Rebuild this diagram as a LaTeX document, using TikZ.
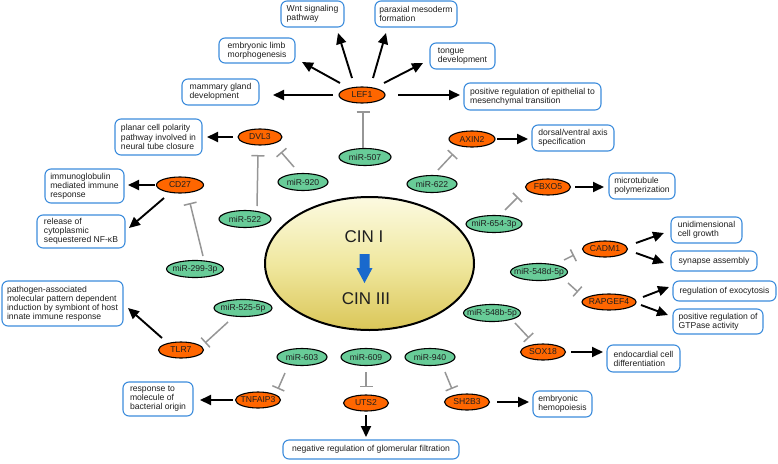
\documentclass[tikz,border=0pt]{standalone}
\usepackage{fontspec}
\setmainfont{Liberation Sans}
\usetikzlibrary{arrows.meta,calc,shapes.geometric}
\definecolor{mgreen}{RGB}{104,204,152}
\definecolor{gorange}{RGB}{255,102,0}
\definecolor{bblue}{RGB}{60,140,220}
\definecolor{igray}{RGB}{150,150,150}
\definecolor{cinblue}{RGB}{25,105,205}
\definecolor{cintop}{RGB}{252,250,225}
\definecolor{cinmid}{RGB}{240,232,160}
\definecolor{cinbot}{RGB}{218,198,88}
\begin{document}
\begin{tikzpicture}[x=1pt,y=-1pt,
  every node/.style={font=\fontsize{8.6}{9.1}\selectfont, text=black!88},
  mir/.style={ellipse, draw, line width=1.1pt, fill=mgreen, inner xsep=-14pt, inner ysep=-5pt, minimum height=17pt, minimum width=#1},
  mir/.default=52pt,
  gene/.style={ellipse, draw, line width=1.1pt, fill=gorange, inner xsep=-14pt, inner ysep=-5pt, minimum height=16pt, minimum width=#1},
  gene/.default=45pt,
  gobox/.style={draw=bblue, line width=1.1pt, rounded corners=6pt, align=left, inner sep=0pt, fill=white},
  arr/.style={-{Triangle[length=11pt,width=10pt]}, line width=1.9pt},
  inh/.style={-{Bar[width=13pt]}, draw=igray, line width=1.5pt}
]
\useasboundingbox (0,0) rectangle (778,463);

% central ellipse
\node[ellipse, draw, line width=2pt, minimum width=209pt, minimum height=133pt,
      top color=cintop, bottom color=cinbot, middle color=cinmid] (cin) at (369.5,263.5) {};
\node[font=\fontsize{17}{20}\selectfont] (cin1) at (364,237) {CIN I};
\node[font=\fontsize{17}{20}\selectfont] (cin3) at (366,299) {CIN III};
\fill[cinblue] (359.5,254) -- (369.5,254) -- (369.5,268) -- (372.5,268) -- (364.5,283) -- (356.5,268) -- (359.5,268) -- cycle;

% GO boxes
\node[gobox, minimum width=63pt, minimum height=26pt] (wnt) at (312.5,14) {Wnt signaling\\pathway};
\node[gobox, minimum width=82pt, minimum height=26pt] (par) at (416,14) {paraxial mesoderm\\formation};
\node[gobox, minimum width=76pt, minimum height=25pt] (limb) at (257,50.5) {embryonic limb\\morphogenesis};
\node[gobox, minimum width=65pt, minimum height=26pt] (tng) at (462.5,56) {tongue\\development};
\node[gobox, minimum width=77pt, minimum height=26pt] (mam) at (220.5,92) {mammary gland\\development};
\node[gobox, minimum width=137pt, minimum height=27pt] (emt) at (532.5,96.5) {positive regulation of epithelial to\\mesenchymal transition};
\node[gobox, minimum width=87pt, minimum height=36pt] (pcp) at (158.5,137) {planar cell polarity\\pathway involved in\\neural tube closure};
\node[gobox, minimum width=82pt, minimum height=26pt] (dv) at (573,138) {dorsal/ventral axis\\specification};
\node[gobox, minimum width=79pt, minimum height=34pt] (im) at (84.5,186) {immunoglobulin\\mediated immune\\response};
\node[gobox, minimum width=88pt, minimum height=33pt] (rl) at (81,231.5) {release of\\cytoplasmic\\sequestered NF-κB};
\node[gobox, minimum width=66pt, minimum height=26pt] (mt) at (642,186) {microtubule\\polymerization};
\node[gobox, minimum width=71pt, minimum height=26pt] (ug) at (706.5,230) {unidimensional\\cell growth};
\node[gobox, minimum width=86pt, minimum height=20pt] (sa) at (714,261) {synapse assembly};
\node[gobox, minimum width=103pt, minimum height=20pt] (ex) at (724.5,291) {regulation of exocytosis};
\node[gobox, minimum width=90pt, minimum height=25pt] (gt) at (718,321.5) {positive regulation of\\GTPase activity};
\node[gobox, minimum width=73pt, minimum height=27pt] (ed) at (643.5,358.5) {endocardial cell\\differentiation};
\node[gobox, minimum width=121pt, minimum height=45pt] (pa) at (62.5,303.5) {pathogen-associated\\molecular pattern dependent\\induction by symbiont of host\\innate immune response};
\node[gobox, minimum width=70pt, minimum height=34pt] (rb) at (158,399) {response to\\molecule of\\bacterial origin};
\node[gobox, minimum width=59pt, minimum height=26pt] (hp) at (562.5,404) {embryonic\\hemopoiesis};
\node[gobox, minimum width=176pt, minimum height=19pt] (gl) at (371,449.5) {negative regulation of glomerular filtration};

% genes
\node[gene=46pt] (lef1) at (362,95) {LEF1};
\node[gene=44pt] (dvl3) at (260,137) {DVL3};
\node[gene=46pt] (axin2) at (472,139) {AXIN2};
\node[gene] (fbxo5) at (548,187) {FBXO5};
\node[gene] (cadm1) at (605,249) {CADM1};
\node[gene=54pt] (rap) at (609,302) {RAPGEF4};
\node[gene] (sox18) at (543,352) {SOX18};
\node[gene] (sh2b3) at (467,402) {SH2B3};
\node[gene] (uts2) at (366,403) {UTS2};
\node[gene] (tnf) at (258,400) {TNFAIP3};
\node[gene] (tlr7) at (181,350) {TLR7};
\node[gene=47pt] (cd27) at (180,185) {CD27};

% miRNAs
\node[mir] (m507) at (365,157) {miR-507};
\node[mir=50pt] (m920) at (303,182) {miR-920};
\node[mir] (m522) at (245,219) {miR-522};
\node[mir=50pt] (m622) at (432,184) {miR-622};
\node[mir=56pt] (m654) at (494,224) {miR-654-3p};
\node[mir=57pt] (m548d) at (539,272) {miR-548d-5p};
\node[mir=57pt] (m548b) at (492,313) {miR-548b-5p};
\node[mir=50pt] (m940) at (430,357) {miR-940};
\node[mir=50pt] (m609) at (366,357) {miR-609};
\node[mir=50pt] (m603) at (302,357) {miR-603};
\node[mir=58pt] (m525) at (243,308) {miR-525-5p};
\node[mir=57pt] (m299) at (195,269) {miR-299-3p};

% activation arrows
\draw[arr] ($(lef1)+(-10,-17)$) -- ($(wnt)+(25.5,19)$);
\draw[arr] ($(lef1)+(11,-17)$) -- ($(par)+(-30,19)$);
\draw[arr] ($(lef1)+(-22,-12)$) -- ($(limb)+(45,11.5)$);
\draw[arr] ($(lef1)+(22,-12)$) -- ($(tng)+(-39.5,7)$);
\draw[arr] ($(lef1)+(-29,0)$) -- ($(mam)+(52.5,3)$);
\draw[arr] ($(lef1)+(36,0)$) -- ($(emt)+(-72.5,-1.5)$);
\draw[arr] ($(dvl3)+(-27,0)$) -- ($(pcp)+(48.5,0)$);
\draw[arr] ($(axin2)+(25,0)$) -- ($(dv)+(-45,1)$);
\draw[arr] ($(fbxo5)+(27,0)$) -- ($(mt)+(-38,1)$);
\draw[arr] ($(cadm1)+(31,-6)$) -- ($(ug)+(-42.5,3)$);
\draw[arr] ($(cadm1)+(31,4)$) -- ($(sa)+(-50,2)$);
\draw[arr] ($(rap)+(34,-5)$) -- ($(ex)+(-55.5,-4)$);
\draw[arr] ($(rap)+(32,3)$) -- ($(gt)+(-50,-6.5)$);
\draw[arr] ($(sox18)+(28,0)$) -- ($(ed)+(-40.5,-6.5)$);
\draw[arr] ($(sh2b3)+(30,0)$) -- ($(hp)+(-33.5,-2)$);
\draw[arr] ($(uts2)+(0,12)$) -- ($(gl)+(-5,-12.5)$);
\draw[arr] ($(tnf)+(-25,0)$) -- ($(rb)+(42,1)$);
\draw[arr] ($(tlr7)+(-19,-12)$) -- ($(pa)+(65.5,4.5)$);
\draw[arr] ($(cd27)+(-25,0)$) -- ($(im)+(43.5,-1)$);
\draw[arr] ($(cd27)+(-16,13)$) -- ($(rl)+(48,-3.5)$);

% inhibition
\draw[inh] ($(m507)+(-2,-9)$) -- ($(lef1)+(1,16)$);
\draw[inh] ($(m920)+(-9,-15)$) -- ($(dvl3)+(21,15)$);
\draw[inh] ($(m522)+(12,-13)$) -- ($(dvl3)+(-2,18)$);
\draw[inh] ($(m622)+(6,-14)$) -- ($(axin2)+(-19,15)$);
\draw[inh] ($(m654)+(11,-14)$) -- ($(fbxo5)+(-30,10)$);
\draw[inh] ($(m548d)+(25,-12)$) -- ($(cadm1)+(-31,6)$);
\draw[inh] ($(m548d)+(29,11)$) -- ($(rap)+(-31,-10)$);
\draw[inh] ($(m548b)+(23,10)$) -- ($(sox18)+(-14,-14)$);
\draw[inh] ($(m940)+(15,15)$) -- ($(sh2b3)+(-15,-13)$);
\draw[inh] ($(m609)+(0,15)$) -- ($(uts2)+(0,-16)$);
\draw[inh] ($(m603)+(-17,16)$) -- ($(tnf)+(20,-11)$);
\draw[inh] ($(m525)+(-15,14)$) -- ($(tlr7)+(24,-7)$);
\draw[inh] ($(m299)+(8,-13)$) -- ($(cd27)+(10,18)$);
\end{tikzpicture}
\end{document}
